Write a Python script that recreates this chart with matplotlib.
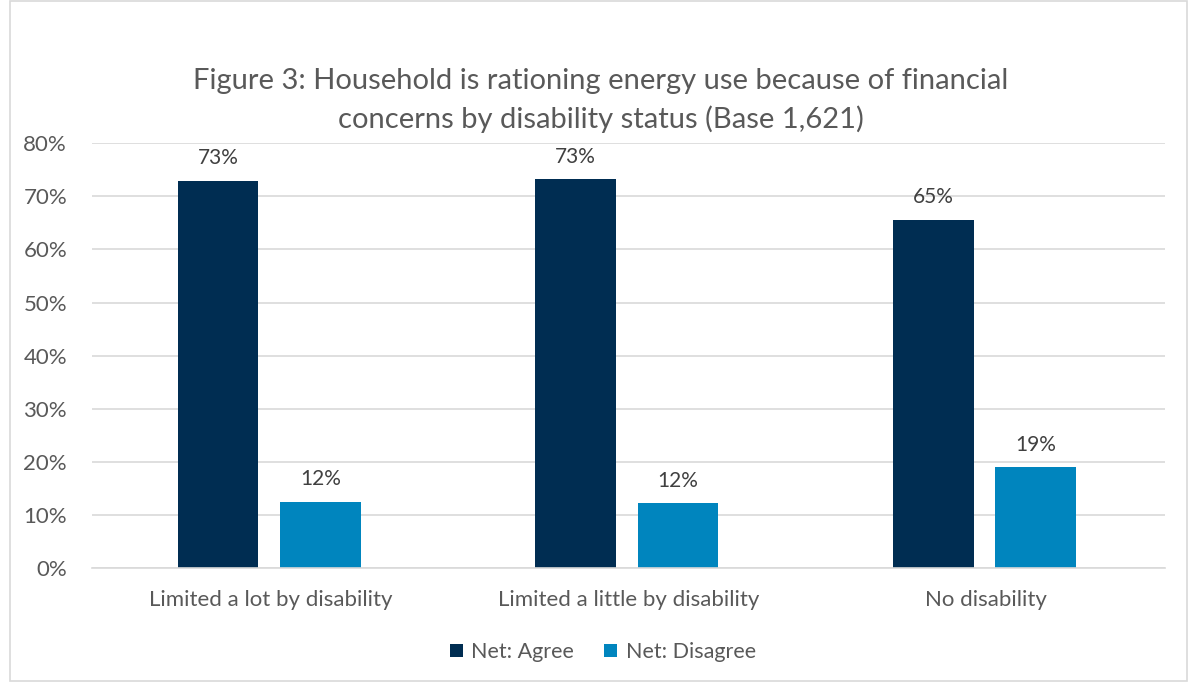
import matplotlib.pyplot as plt
import numpy as np
from matplotlib.patches import Rectangle

plt.rcParams['font.family'] = ['Lato', 'DejaVu Sans']

CATEGORIES = ['Limited a lot by disability', 'Limited a little by disability', 'No disability']
AGREE = [72.9, 73.2, 65.6]
DISAGREE = [12.5, 12.2, 19.0]
AGREE_LABELS = ['73%', '73%', '65%']
DISAGREE_LABELS = ['12%', '12%', '19%']
SERIES = ['Net: Agree', 'Net: Disagree']
Y_TICKS = [0, 10, 20, 30, 40, 50, 60, 70, 80]

NAVY = '#002d52'
BLUE = '#0085be'
TEXT = '#595959'


def main():
    fig = plt.figure(figsize=(11.89, 6.82), dpi=100)
    ax = fig.add_axes([0.0774, 0.167, 0.9026, 0.623])

    x = np.arange(len(CATEGORIES))
    width = 0.226
    gap = 0.03
    b1 = ax.bar(x - width / 2 - gap - 0.005, AGREE, width, color=NAVY, label=SERIES[0])
    b2 = ax.bar(x + width / 2 + gap - 0.005, DISAGREE, width, color=BLUE, label=SERIES[1])

    for bars, labels in ((b1, AGREE_LABELS), (b2, DISAGREE_LABELS)):
        for bar, lab in zip(bars, labels):
            ax.annotate(lab, (bar.get_x() + bar.get_width() / 2, bar.get_height()),
                        xytext=(0, 9), textcoords='offset points',
                        ha='center', va='bottom', fontsize=15, color='#404040')

    ax.set_xlim(-0.5, 2.5)
    ax.set_ylim(0, 80)
    ax.set_yticks(Y_TICKS)
    ax.set_yticklabels([f'{t}%' for t in Y_TICKS])
    ax.set_xticks(x)
    ax.set_xticklabels(CATEGORIES)
    ax.tick_params(axis='both', length=0, labelsize=16, labelcolor=TEXT)
    ax.tick_params(axis='x', pad=16)
    ax.tick_params(axis='y', pad=18)
    ax.grid(axis='y', color='#d9d9d9', linewidth=1.2)
    ax.set_axisbelow(True)
    for side in ('top', 'right', 'left'):
        ax.spines[side].set_visible(False)
    ax.spines['bottom'].set_color('#d9d9d9')
    ax.spines['bottom'].set_linewidth(1.2)

    fig.text(0.505, 0.852, 'Figure 3: Household is rationing energy use because of financial\n'
             'concerns by disability status (Base 1,621)',
             ha='center', va='center', fontsize=21, color=TEXT, linespacing=1.5)

    fig.legend(handles=[b1, b2], labels=SERIES, loc='center', bbox_to_anchor=(0.507, 0.044),
               ncol=2, frameon=False, fontsize=15.5, handlelength=0.6, handleheight=0.6,
               handletextpad=0.4, columnspacing=1.4, labelcolor=TEXT)

    fig.patches.append(Rectangle((0.008, 0.002), 0.99, 0.996, transform=fig.transFigure,
                                 fill=False, edgecolor='#d9d9d9', linewidth=1.2))

    fig.savefig('out.png', dpi=100, facecolor='white')


if __name__ == "__main__":
    main()
